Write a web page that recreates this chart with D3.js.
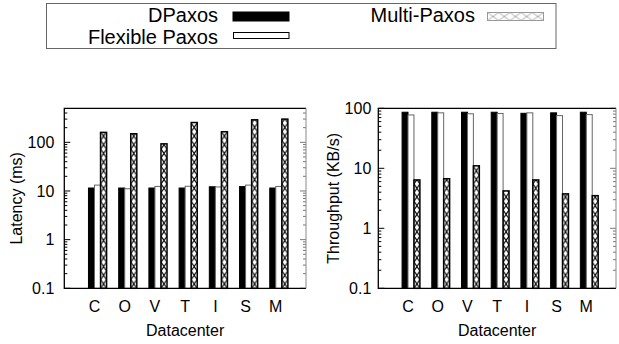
<!DOCTYPE html>
<html><head><meta charset="utf-8">
<script src="https://cdn.jsdelivr.net/npm/d3@7"></script>
<style>body{margin:0;background:#fff}svg{display:block}text{font-family:"Liberation Sans",Arial,sans-serif;fill:#000}</style>
</head><body><svg id="c" width="619" height="344"></svg>
<script>
const categories = ["C","O","V","T","I","S","M"];
const seriesNames = ["DPaxos","Flexible Paxos","Multi-Paxos"];
const latencyDPaxos   = [11.5, 11.5, 11.5, 11.5, 12.2, 12.3, 11.5];
const latencyFlexible = [13.2, 11.1, 12.4, 12.5, 12.1, 13.2, 12.4];
const latencyMulti    = [160, 150, 93, 255, 165, 290, 300];
const thrDPaxos   = [86, 86, 86, 86, 82.5, 84, 86];
const thrFlexible = [77.5, 84, 81, 82, 84, 75.5, 78.5];
const thrMulti    = [6.4, 6.7, 11, 4.2, 6.4, 3.75, 3.5];
const latencyTicks = [0.1, 1, 10, 100];
const thrTicks = [0.1, 1, 10, 100];

const svg = d3.select("#c");
const defs = svg.append("defs");

function panel(opts){
  const {x0,x1,y0,y1,domain,ticks,series,ylabel,id,ygap} = opts;
  const x = d3.scaleLinear().domain([-1,7]).range([x0,x1]);
  const y = d3.scaleLog().domain(domain).range([y1,y0]);
  const unit = x(1)-x(0);
  const bw = unit*0.2;
  const g = svg.append("g");
  const pat = defs.append("pattern").attr("id",id).attr("patternUnits","userSpaceOnUse")
    .attr("x", x(0.2)).attr("y", y1).attr("width", unit).attr("height", 8.7);
  pat.append("path").attr("d",`M0,0L${bw},8.7M${bw},0L0,8.7`).attr("stroke","#000").attr("stroke-width",1.2).attr("fill","none");
  const [lo,hi] = domain;
  const minors = [];
  for(let e=Math.floor(Math.log10(lo)); e<=Math.ceil(Math.log10(hi)); e++){
    for(let m=2;m<=9;m++){const v=m*Math.pow(10,e); if(v>lo&&v<hi) minors.push(v);}
  }
  [x0,x1].forEach((xx,i)=>{
    const dir = i===0?1:-1;
    g.selectAll(null).data(minors).enter().append("line")
      .attr("x1",xx).attr("x2",xx+dir*3).attr("y1",d=>y(d)).attr("y2",d=>y(d))
      .attr("stroke", i===0?"#000":"#777").attr("stroke-width",1);
    g.selectAll(null).data(ticks).enter().append("line")
      .attr("x1",xx).attr("x2",xx+dir*6).attr("y1",d=>y(d)).attr("y2",d=>y(d))
      .attr("stroke", i===0?"#000":"#777").attr("stroke-width",1);
  });
  const fills = ["#000","#fff",`url(#${id})`];
  const strokes = ["#000","#666","#000"];
  series.forEach((vals,si)=>{
    g.selectAll(null).data(vals).enter().append("rect")
      .attr("x",(d,i)=>x(i-0.2+si*0.2))
      .attr("width",bw)
      .attr("y",d=>y(d))
      .attr("height",d=>y1-y(d))
      .attr("fill",fills[si]).attr("stroke",strokes[si]).attr("stroke-width",si===2?1.5:1);
  });
  g.append("path").attr("d",`M${x1},${y0}L${x0},${y0}L${x0},${y1}L${x1},${y1}`)
    .attr("fill","none").attr("stroke","#000").attr("stroke-width",1.3);
  g.append("line").attr("x1",x1).attr("x2",x1).attr("y1",y0).attr("y2",y1).attr("stroke","#888").attr("stroke-width",1);
  g.selectAll(null).data(ticks).enter().append("text")
    .attr("x",x0-ygap).attr("y",d=>y(d)).attr("dy","0.35em").attr("text-anchor","end")
    .attr("font-size",16).text(d=>d3.format("~g")(d));
  g.selectAll(null).data(categories).enter().append("text")
    .attr("x",(d,i)=>x(i)).attr("y",312).attr("text-anchor","middle").attr("font-size",16).text(d=>d);
  g.append("text").attr("x",(x0+x1)/2).attr("y",336).attr("text-anchor","middle").attr("font-size",16).text("Datacenter");
  g.append("text").attr("transform",`translate(${opts.ylx},${(y0+y1)/2}) rotate(-90)`)
    .attr("text-anchor","middle").attr("dy","0.35em").attr("font-size",16).text(ylabel);
}

panel({x0:64.3,x1:306,y0:108.3,y1:288.3,domain:[0.1,500],ticks:latencyTicks,
  series:[latencyDPaxos,latencyFlexible,latencyMulti],ylabel:"Latency (ms)",id:"h1",ygap:10,ylx:16});
panel({x0:378.3,x1:616,y0:108.3,y1:288.3,domain:[0.1,100],ticks:thrTicks,
  series:[thrDPaxos,thrFlexible,thrMulti],ylabel:"Throughput (KB/s)",id:"h2",ygap:7,ylx:333});

const lg = svg.append("g");
lg.append("rect").attr("x",46.5).attr("y",3.5).attr("width",509.5).attr("height",45)
  .attr("fill","none").attr("stroke","#666").attr("stroke-width",1);
const lp = defs.append("pattern").attr("id","hl").attr("patternUnits","userSpaceOnUse")
  .attr("x",487.5).attr("y",12.5).attr("width",11.2).attr("height",8);
lp.append("path").attr("d","M0,0L11.2,8M11.2,0L0,8").attr("stroke","#999").attr("stroke-width",0.8).attr("fill","none");
const legendItems = [
  {name:seriesNames[0], tx:218, ty:21.5, sx:233, sy:12, sw:56, sh:9, fill:"#000", stroke:"#000"},
  {name:seriesNames[1], tx:218, ty:43.5, sx:233.5, sy:32.5, sw:55.5, sh:6, fill:"#fff", stroke:"#000"},
  {name:seriesNames[2], tx:475, ty:21.5, sx:487.5, sy:12.5, sw:56, sh:8, fill:"url(#hl)", stroke:"#999"}
];
legendItems.forEach(d=>{
  lg.append("text").attr("x",d.tx).attr("y",d.ty).attr("text-anchor","end").attr("font-size",20).text(d.name);
  lg.append("rect").attr("x",d.sx).attr("y",d.sy).attr("width",d.sw).attr("height",d.sh)
    .attr("fill",d.fill).attr("stroke",d.stroke).attr("stroke-width",1);
});
</script></body></html>
